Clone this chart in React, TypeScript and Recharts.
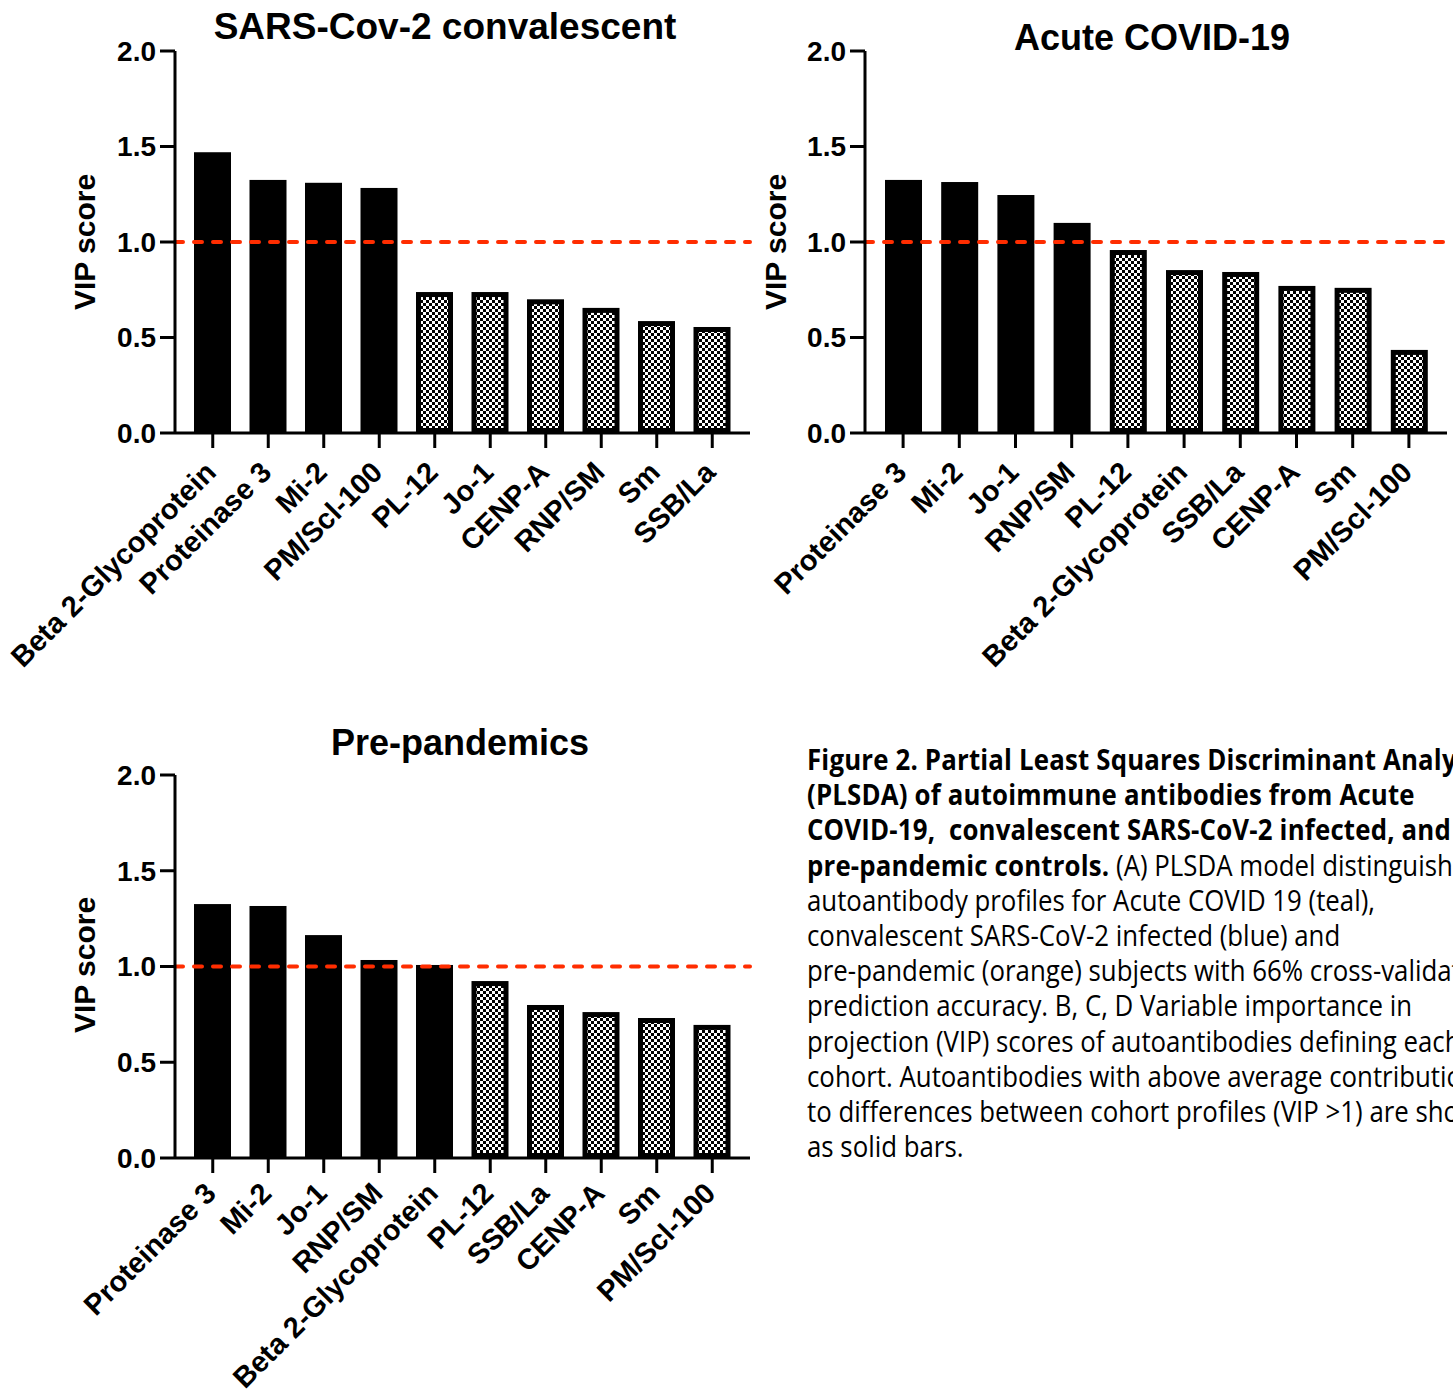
import React from "react";
import { BarChart, Bar, XAxis, YAxis, ReferenceLine } from "recharts";

// VIP scores per cohort, ordered as in the figure
const convalescentLabels = ["Beta 2-Glycoprotein", "Proteinase 3", "Mi-2", "PM/Scl-100", "PL-12", "Jo-1", "CENP-A", "RNP/SM", "Sm", "SSB/La"];
const convalescentVip = [1.47, 1.325, 1.31, 1.283, 0.738, 0.738, 0.7, 0.655, 0.586, 0.555];

const acuteLabels = ["Proteinase 3", "Mi-2", "Jo-1", "RNP/SM", "PL-12", "Beta 2-Glycoprotein", "SSB/La", "CENP-A", "Sm", "PM/Scl-100"];
const acuteVip = [1.325, 1.314, 1.246, 1.1, 0.958, 0.853, 0.843, 0.77, 0.76, 0.435];

const prePandemicLabels = ["Proteinase 3", "Mi-2", "Jo-1", "RNP/SM", "Beta 2-Glycoprotein", "PL-12", "SSB/La", "CENP-A", "Sm", "PM/Scl-100"];
const prePandemicVip = [1.326, 1.316, 1.164, 1.034, 1.008, 0.924, 0.799, 0.762, 0.731, 0.695];

const yTicks = [0, 0.5, 1, 1.5, 2];
const vipThreshold = 1;

const ARIAL = "'Liberation Sans', Arial, Helvetica, sans-serif";
const RED = "#ff2d00";

const toRows = (labels: string[], values: number[]) =>
  labels.map((name, i) => ({ name, vip: values[i] }));

function VipBar(props: any) {
  const { x, y, width, height, payload } = props;
  if (payload.vip >= vipThreshold) {
    return <rect x={x} y={y} width={width} height={height} fill="#000" />;
  }
  const s = 5;
  return (
    <rect
      x={x + s / 2}
      y={y + s / 2}
      width={width - s}
      height={height - s}
      fill="url(#checker)"
      stroke="#000"
      strokeWidth={s}
    />
  );
}

function SlantTick(props: any) {
  const { x, y, payload, dropY } = props;
  return (
    <text
      x={0}
      y={0}
      transform={`translate(${x + 5},${y + dropY}) rotate(-45)`}
      textAnchor="end"
      fontFamily={ARIAL}
      fontWeight={700}
      fontSize={29}
      fill="#000"
    >
      {payload.value}
    </text>
  );
}

interface PanelProps {
  rows: { name: string; vip: number }[];
  left: number;
  top: number;
  width: number;
  height: number;
  marginRight: number;
  xAxisHeight: number;
  labelDrop: number;
}

function VipPanel({ rows, left, top, width, height, marginRight, xAxisHeight, labelDrop }: PanelProps) {
  return (
    <div style={{ position: "absolute", left, top }}>
      <BarChart
        width={width}
        height={height}
        data={rows}
        margin={{ top: 51, right: marginRight, bottom: 0, left: 0 }}
      >
        <XAxis
          dataKey="name"
          interval={0}
          height={xAxisHeight}
          padding={{ left: 10, right: 10 }}
          tickSize={15}
          tickLine={{ stroke: "#000", strokeWidth: 3 }}
          axisLine={{ stroke: "#000", strokeWidth: 3 }}
          tick={<SlantTick dropY={labelDrop} />}
        />
        <YAxis
          type="number"
          domain={[0, 2]}
          ticks={yTicks}
          width={175}
          tickSize={15}
          tickMargin={4}
          tickFormatter={(v: number) => v.toFixed(1)}
          tickLine={{ stroke: "#000", strokeWidth: 3 }}
          axisLine={{ stroke: "#000", strokeWidth: 3 }}
          tick={{ fontFamily: ARIAL, fontWeight: 700, fontSize: 28, fill: "#000" }}
        />
        <Bar dataKey="vip" barSize={37} isAnimationActive={false} shape={VipBar} />
        <ReferenceLine
          y={vipThreshold}
          stroke={RED}
          strokeWidth={4}
          strokeDasharray="8 11"
          strokeLinecap="round"
        />
      </BarChart>
    </div>
  );
}

const captionLines: { bold?: string; text?: string }[] = [
  { bold: "Figure 2. Partial Least Squares Discriminant Analysis" },
  { bold: "(PLSDA) of autoimmune antibodies from Acute" },
  { bold: "COVID-19,  convalescent SARS-CoV-2 infected, and" },
  { bold: "pre-pandemic controls.", text: " (A) PLSDA model distinguishes" },
  { text: "autoantibody profiles for Acute COVID 19 (teal)," },
  { text: "convalescent SARS-CoV-2 infected (blue) and" },
  { text: "pre-pandemic (orange) subjects with 66% cross-validation" },
  { text: "prediction accuracy. B, C, D Variable importance in" },
  { text: "projection (VIP) scores of autoantibodies defining each" },
  { text: "cohort. Autoantibodies with above average contribution" },
  { text: "to differences between cohort profiles (VIP >1) are shown" },
  { text: "as solid bars." },
];

export default function App() {
  return (
    <div
      style={{
        position: "absolute",
        left: 0,
        top: 0,
        width: 1453,
        height: 1391,
        overflow: "hidden",
        background: "#fff",
      }}
    >
      <svg width={0} height={0} style={{ position: "absolute" }}>
        <defs>
          <pattern id="checker" width={6} height={6} patternUnits="userSpaceOnUse">
            <rect width={6} height={6} fill="#fff" />
            <rect width={3} height={3} fill="#000" />
            <rect x={3} y={3} width={3} height={3} fill="#000" />
          </pattern>
        </defs>
      </svg>

      <VipPanel
        rows={toRows(convalescentLabels, convalescentVip)}
        left={0}
        top={0}
        width={760}
        height={700}
        marginRight={10}
        xAxisHeight={267}
        labelDrop={24}
      />
      <VipPanel
        rows={toRows(acuteLabels, acuteVip)}
        left={690}
        top={0}
        width={760}
        height={700}
        marginRight={3}
        xAxisHeight={267}
        labelDrop={24}
      />
      <VipPanel
        rows={toRows(prePandemicLabels, prePandemicVip)}
        left={0}
        top={724}
        width={760}
        height={667}
        marginRight={10}
        xAxisHeight={233}
        labelDrop={20}
      />

      <svg
        width={1453}
        height={1391}
        style={{ position: "absolute", left: 0, top: 0, pointerEvents: "none" }}
        fontFamily={ARIAL}
        fontWeight={700}
        fill="#000"
      >
        <text x={-25} y={27} fontSize={36}>B</text>
        <text x={445} y={39} fontSize={37} textAnchor="middle">SARS-Cov-2 convalescent</text>
        <text x={1152} y={50} fontSize={36} textAnchor="middle">Acute COVID-19</text>
        <text x={460} y={755} fontSize={36} textAnchor="middle">Pre-pandemics</text>
        <text x={95} y={242} fontSize={30} textAnchor="middle" transform="rotate(-90 95 242)">VIP score</text>
        <text x={786} y={242} fontSize={30} textAnchor="middle" transform="rotate(-90 786 242)">VIP score</text>
        <text x={95} y={965} fontSize={30} textAnchor="middle" transform="rotate(-90 95 965)">VIP score</text>
      </svg>

      <div
        style={{
          position: "absolute",
          left: 807,
          top: 741,
          fontFamily: "'Open Sans', 'Noto Sans', sans-serif",
          fontSize: 29,
          lineHeight: "35.2px",
          color: "#000",
          whiteSpace: "pre",
          transform: "scaleX(0.89)",
          transformOrigin: "left top",
        }}
      >
        {captionLines.map((line, i) => (
          <div key={i}>
            {line.bold && <span style={{ fontWeight: 700, letterSpacing: 0.2 }}>{line.bold}</span>}
            {line.text && <span>{line.text}</span>}
          </div>
        ))}
      </div>
    </div>
  );
}
